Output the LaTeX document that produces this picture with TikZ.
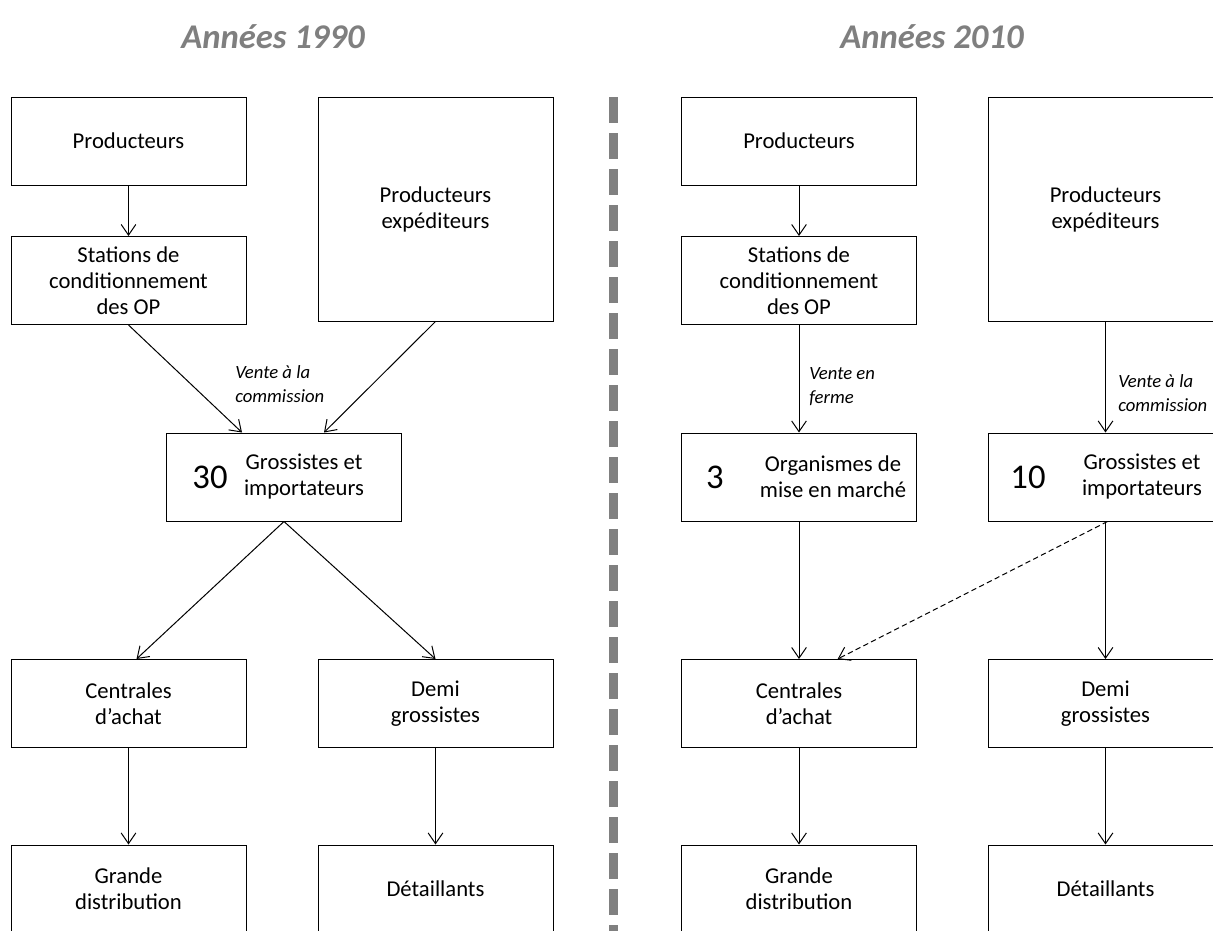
\documentclass[tikz,border=0pt]{standalone}
\usepackage{fontspec}
\setmainfont{Carlito}
\usetikzlibrary{arrows.meta}
\definecolor{titlegray}{HTML}{7F7F7F}
\definecolor{divgray}{HTML}{808080}
\newcommand\bxfont{\fontsize{17}{19.5}\selectfont}
\newcommand\lbfont{\itshape\fontsize{14}{18}\selectfont}
\newcommand\nmfont{\fontsize{26}{28}\selectfont}
\newcommand\ttlfont{\bfseries\itshape\fontsize{26}{30}\selectfont}
\begin{document}
\begin{tikzpicture}[x=0.75pt,y=-0.75pt,
  box/.style={draw, line width=0.75pt, minimum width=176.25pt, minimum height=66pt, inner sep=0pt, align=center, font=\bxfont},
  tall/.style={box, minimum height=168pt},
  inbox/.style={inner sep=0pt, align=center, font=\bxfont},
  arr/.style={-{Straight Barb[length=8pt,width=11pt]}, line width=0.75pt},
  dsh/.style={arr, dash pattern=on 4pt off 2.5pt},
  lab/.style={font=\lbfont, align=left, anchor=west, inner sep=0pt},
  num/.style={font=\nmfont, inner sep=0pt},
  ttl/.style={font=\ttlfont, text=titlegray, inner sep=0pt},
  divider/.style={draw=divgray, line width=6.75pt, dash pattern=on 19.5pt off 7.5pt}]
\useasboundingbox (0,0) rectangle (1213,931);
\clip (0,0) rectangle (1213,931);

% titles
\node[ttl] (t1990) at (273,37) {Années 1990};
\node[ttl] (t2010) at (932,37) {Années 2010};

% divider
\coordinate (divTop) at (613.5,97);
\coordinate (divBot) at (613.5,945);
\draw[divider] (divTop) -- (divBot);

% ---------- left half (1990s)
\node[box] (prodL) at (128.5,141) {Producteurs};
\node[tall] (expL) at (435.5,209) {Producteurs\\expéditeurs};
\node[box] (statL) at (128.5,280.5) {Stations de\\conditionnement\\des OP};
\node[box] (grosL) at (284,477) {};
\node[num] (nGrosL) at (210,477) {30};
\node[inbox] (tGrosL) at (304,477) {Grossistes et\\importateurs};
\node[box] (centL) at (128.5,703.5) {Centrales\\d’achat};
\node[box] (demiL) at (435.5,703.5) {Demi\\grossistes};
\node[box] (grandL) at (128.5,889) {Grande\\distribution};
\node[box] (detL) at (435.5,889) {Détaillants};

\draw[arr] (prodL.south) -- (statL.north);
\draw[arr] (statL.south) -- ([xshift=-31.5pt]grosL.north);
\draw[arr] (expL.south) -- ([xshift=30pt]grosL.north);
\node[lab] (labL) at (235,384) {Vente à la\\commission};
\draw[arr] (grosL.south) -- ([xshift=6pt]centL.north);
\draw[arr] (grosL.south) -- (demiL.north);
\draw[arr] (centL.south) -- (grandL.north);
\draw[arr] (demiL.south) -- (detL.north);

% ---------- right half (2010s)
\node[box] (prodR) at (799,141) {Producteurs};
\node[tall] (expR) at (1105.5,209) {Producteurs\\expéditeurs};
\node[box] (statR) at (799,280.5) {Stations de\\conditionnement\\des OP};
\node[box] (orgR) at (799,477) {};
\node[num] (nOrgR) at (715,477) {3};
\node[inbox] (tOrgR) at (833,477) {Organismes de\\mise en marché};
\node[box] (grosR) at (1105.5,477) {};
\node[num] (nGrosR) at (1028,477) {10};
\node[inbox] (tGrosR) at (1142,477) {Grossistes et\\importateurs};
\node[box] (centR) at (799,703.5) {Centrales\\d’achat};
\node[box] (demiR) at (1105.5,703.5) {Demi\\grossistes};
\node[box] (grandR) at (799,889) {Grande\\distribution};
\node[box] (detR) at (1105.5,889) {Détaillants};

\draw[arr] (prodR.south) -- (statR.north);
\draw[arr] (statR.south) -- (orgR.north);
\node[lab] (labR1) at (809,387) {Vente en\\ferme};
\draw[arr] (expR.south) -- (grosR.north);
\node[lab] (labR2) at (1118,393) {Vente à la\\commission};
\draw[arr] (orgR.south) -- (centR.north);
\draw[arr] (grosR.south) -- (demiR.north);
\draw[dsh] ([xshift=1.5pt]grosR.south) -- ([xshift=29pt]centR.north);
\draw[arr] (centR.south) -- (grandR.north);
\draw[arr] (demiR.south) -- (detR.north);
\end{tikzpicture}
\end{document}
